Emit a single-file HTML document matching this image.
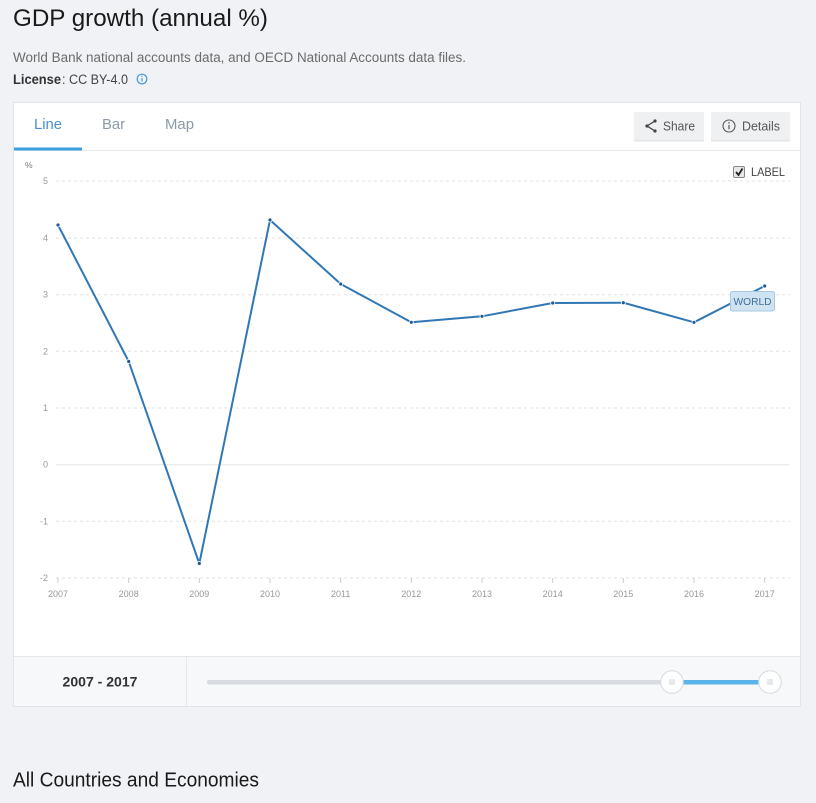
<!DOCTYPE html>
<html><head><meta charset="utf-8"><style>
html,body{margin:0;padding:0;background:#f1f2f5;}
svg{display:block;}
text{font-family:"Liberation Sans",sans-serif;}
</style></head><body>
<svg width="816" height="803" viewBox="0 0 816 803" xmlns="http://www.w3.org/2000/svg">
<rect x="0" y="0" width="816" height="803" fill="#f1f2f5"/>
<!-- Title -->
<text x="13" y="26" font-size="24" fill="#1a1a1a" textLength="255" lengthAdjust="spacingAndGlyphs">GDP growth (annual %)</text>
<text x="13" y="62" font-size="13.5" fill="#6b6b6b" textLength="453" lengthAdjust="spacingAndGlyphs">World Bank national accounts data, and OECD National Accounts data files.</text>
<text x="13" y="84" font-size="13.5" fill="#333" font-weight="bold" textLength="48" lengthAdjust="spacingAndGlyphs">License</text>
<text x="62" y="84" font-size="13.5" fill="#444" textLength="66" lengthAdjust="spacingAndGlyphs">: CC BY-4.0</text>
<circle cx="142" cy="79" r="4.8" fill="none" stroke="#4a98d8" stroke-width="1.2"/>
<rect x="141.4" y="78" width="1.2" height="3.5" fill="#4a98d8"/>
<circle cx="142" cy="76.3" r="0.7" fill="#4a98d8"/>

<!-- Card -->
<rect x="13.5" y="102.5" width="787" height="604" fill="#fff" stroke="#e1e5ea"/>
<line x1="14" y1="150.5" x2="800" y2="150.5" stroke="#e6e9ed"/>
<rect x="14" y="147.5" width="68" height="3" fill="#3b9fe0"/>
<text x="34" y="129" font-size="15" fill="#4a8fcf" textLength="28" lengthAdjust="spacingAndGlyphs">Line</text>
<text x="102" y="129" font-size="15" fill="#8b9aa7" textLength="23" lengthAdjust="spacingAndGlyphs">Bar</text>
<text x="165" y="129" font-size="15" fill="#8b9aa7" textLength="29" lengthAdjust="spacingAndGlyphs">Map</text>

<!-- Buttons -->
<rect x="634" y="112" width="70" height="29" fill="#eff0f2" rx="1"/>
<rect x="634" y="140" width="70" height="1.5" fill="#e2e4e7"/>
<rect x="711" y="112" width="79" height="29" fill="#eff0f2" rx="1"/>
<rect x="711" y="140" width="79" height="1.5" fill="#e2e4e7"/>
<g stroke="#444" stroke-width="1.3" fill="none">
<polyline points="655,121 647,126 655,131"/>
</g>
<circle cx="655" cy="121" r="1.6" fill="#444"/>
<circle cx="647" cy="126" r="1.6" fill="#444"/>
<circle cx="655" cy="131" r="1.6" fill="#444"/>
<text x="663" y="130.5" font-size="13" fill="#555" textLength="32" lengthAdjust="spacingAndGlyphs">Share</text>
<circle cx="729" cy="126" r="6" fill="none" stroke="#555" stroke-width="1.1"/>
<rect x="728.4" y="124.8" width="1.2" height="4.5" fill="#555"/>
<circle cx="729" cy="122.8" r="0.75" fill="#555"/>
<text x="742" y="130.5" font-size="13" fill="#555" textLength="38" lengthAdjust="spacingAndGlyphs">Details</text>

<!-- LABEL checkbox -->
<rect x="733.5" y="166.5" width="11" height="11" fill="#e8e8e8" stroke="#888" rx="1.5"/>
<polyline points="736,172 738.5,175 742.5,168.5" fill="none" stroke="#222" stroke-width="1.8"/>
<text x="751" y="176" font-size="11.5" fill="#444" textLength="34" lengthAdjust="spacingAndGlyphs">LABEL</text>

<!-- Y axis labels -->
<text x="25" y="168" font-size="8.5" fill="#777">%</text>
<g font-size="9" fill="#999" text-anchor="end">
<text x="48" y="184">5</text>
<text x="48" y="241">4</text>
<text x="48" y="297.7">3</text>
<text x="48" y="354.3">2</text>
<text x="48" y="411">1</text>
<text x="48" y="467.7">0</text>
<text x="48" y="524.3">-1</text>
<text x="48" y="581">-2</text>
</g>
<!-- Grid -->
<g stroke="#e2e2e2" stroke-width="1" stroke-dasharray="3,3">
<line x1="56" y1="181" x2="790" y2="181"/>
<line x1="56" y1="238" x2="790" y2="238"/>
<line x1="56" y1="294.7" x2="790" y2="294.7"/>
<line x1="56" y1="351.3" x2="790" y2="351.3"/>
<line x1="56" y1="408" x2="790" y2="408"/>
<line x1="56" y1="521.3" x2="790" y2="521.3"/>
<line x1="56" y1="578" x2="790" y2="578"/>
</g>
<line x1="56" y1="464.7" x2="790" y2="464.7" stroke="#e6e6e6" stroke-width="1"/>
<!-- X ticks -->
<g stroke="#ccc" stroke-width="1">
<line x1="58" y1="578" x2="58" y2="583"/>
<line x1="128.7" y1="578" x2="128.7" y2="583"/>
<line x1="199.3" y1="578" x2="199.3" y2="583"/>
<line x1="270" y1="578" x2="270" y2="583"/>
<line x1="340.7" y1="578" x2="340.7" y2="583"/>
<line x1="411.3" y1="578" x2="411.3" y2="583"/>
<line x1="482" y1="578" x2="482" y2="583"/>
<line x1="552.7" y1="578" x2="552.7" y2="583"/>
<line x1="623.3" y1="578" x2="623.3" y2="583"/>
<line x1="694" y1="578" x2="694" y2="583"/>
<line x1="764.7" y1="578" x2="764.7" y2="583"/>
</g>
<g font-size="9" fill="#999" text-anchor="middle">
<text x="58" y="597">2007</text>
<text x="128.7" y="597">2008</text>
<text x="199.3" y="597">2009</text>
<text x="270" y="597">2010</text>
<text x="340.7" y="597">2011</text>
<text x="411.3" y="597">2012</text>
<text x="482" y="597">2013</text>
<text x="552.7" y="597">2014</text>
<text x="623.3" y="597">2015</text>
<text x="694" y="597">2016</text>
<text x="764.7" y="597">2017</text>
</g>
<!-- Series -->
<polyline fill="none" stroke="#2f78b5" stroke-width="2" stroke-linejoin="round"
 points="58,225 128.7,361.5 199.3,563.5 270,220 340.7,284 411.3,322.3 482,316.3 552.7,303 623.3,302.7 694,322.3 764.7,286"/>
<g fill="#1f5a8e" stroke="#fff" stroke-width="0.8">
<circle cx="58" cy="225" r="2"/>
<circle cx="128.7" cy="361.5" r="2"/>
<circle cx="199.3" cy="563.5" r="2"/>
<circle cx="270" cy="220" r="2"/>
<circle cx="340.7" cy="284" r="2"/>
<circle cx="411.3" cy="322.3" r="2"/>
<circle cx="482" cy="316.3" r="2"/>
<circle cx="552.7" cy="303" r="2"/>
<circle cx="623.3" cy="302.7" r="2"/>
<circle cx="694" cy="322.3" r="2"/>
<circle cx="764.7" cy="286" r="2"/>
</g>
<!-- WORLD label -->
<rect x="730.5" y="291.5" width="44" height="19.5" rx="2" fill="#cfe3f3" stroke="#a9c9e3"/>
<text x="752.5" y="305" font-size="10.5" fill="#3e6e98" text-anchor="middle" textLength="38" lengthAdjust="spacingAndGlyphs">WORLD</text>

<!-- Footer -->
<rect x="14" y="656.5" width="786" height="49.5" fill="#f7f8fa"/>
<line x1="14" y1="656.5" x2="800" y2="656.5" stroke="#e3e6ea"/>
<line x1="186.5" y1="657" x2="186.5" y2="706" stroke="#e6e9ec"/>
<text x="100" y="686.5" font-size="14" font-weight="bold" fill="#333" text-anchor="middle" textLength="75" lengthAdjust="spacingAndGlyphs">2007 - 2017</text>
<rect x="207" y="680" width="465" height="4.5" rx="2" fill="#d8dce0"/>
<rect x="672" y="680" width="98" height="4.5" fill="#5ab4e7"/>
<g>
<circle cx="672" cy="682" r="11.3" fill="#fff" stroke="#d6dade"/>
<circle cx="770" cy="682" r="11.3" fill="#fff" stroke="#d6dade"/>
<g stroke="#c4c8cc" stroke-width="0.8">
<line x1="670" y1="679" x2="670" y2="685"/><line x1="672" y1="679" x2="672" y2="685"/><line x1="674" y1="679" x2="674" y2="685"/>
<line x1="768" y1="679" x2="768" y2="685"/><line x1="770" y1="679" x2="770" y2="685"/><line x1="772" y1="679" x2="772" y2="685"/>
</g>
</g>

<!-- Section heading -->
<text x="13" y="786.5" font-size="20" fill="#1a1a1a" textLength="246" lengthAdjust="spacingAndGlyphs">All Countries and Economies</text>
</svg>
</body></html>
